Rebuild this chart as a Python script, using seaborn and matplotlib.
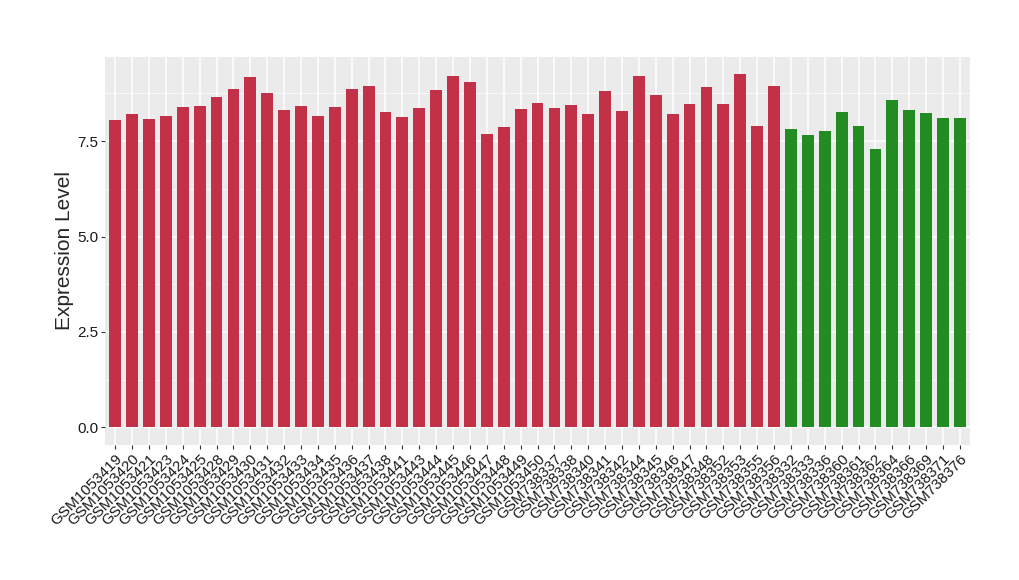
import numpy as np
import pandas as pd
import matplotlib
matplotlib.use("Agg")
import matplotlib.pyplot as plt
import seaborn as sns
from matplotlib.ticker import MultipleLocator

# sample ids, grouped by colour
red_samples = ["GSM1053419", "GSM1053420", "GSM1053421", "GSM1053423", "GSM1053424",
               "GSM1053425", "GSM1053428", "GSM1053429", "GSM1053430", "GSM1053431",
               "GSM1053432", "GSM1053433", "GSM1053434", "GSM1053435", "GSM1053436",
               "GSM1053437", "GSM1053438", "GSM1053441", "GSM1053443", "GSM1053444",
               "GSM1053445", "GSM1053446", "GSM1053447", "GSM1053448", "GSM1053449",
               "GSM1053450", "GSM738337", "GSM738338", "GSM738340", "GSM738341",
               "GSM738342", "GSM738344", "GSM738345", "GSM738346", "GSM738347",
               "GSM738348", "GSM738352", "GSM738353", "GSM738355", "GSM738356"]
green_samples = ["GSM738332", "GSM738333", "GSM738336", "GSM738360", "GSM738361",
                 "GSM738362", "GSM738364", "GSM738366", "GSM738369", "GSM738371",
                 "GSM738376"]

red_values = [8.05, 8.20, 8.07, 8.15, 8.39, 8.41, 8.67, 8.88, 9.17, 8.75,
              8.31, 8.41, 8.15, 8.39, 8.88, 8.94, 8.26, 8.13, 8.36, 8.83,
              9.20, 9.04, 7.68, 7.86, 8.34, 8.49, 8.36, 8.44, 8.20, 8.81,
              8.28, 9.22, 8.70, 8.20, 8.47, 8.91, 8.47, 9.25, 7.89, 8.94]
green_values = [7.81, 7.66, 7.76, 8.26, 7.89, 7.29, 8.57, 8.31, 8.23, 8.10, 8.10]

df = pd.DataFrame({
    "sample": red_samples + green_samples,
    "value": red_values + green_values,
    "group": ["a"] * len(red_samples) + ["b"] * len(green_samples),
})

sns.set_style("darkgrid", {"axes.facecolor": "#EBEBEB", "grid.color": "white"})
plt.rcParams["font.family"] = ["Liberation Sans", "DejaVu Sans"]

fig = plt.figure(figsize=(10.2, 5.8), dpi=100)
ax = fig.add_axes([0.103, 0.233, 0.848, 0.669])

sns.barplot(data=df, x="sample", y="value", hue="group",
            palette={"a": "#C23147", "b": "#228B22"}, dodge=False,
            width=0.7, legend=False, ax=ax, saturation=1, linewidth=0)

ax.set_xlim(-0.6, len(df) - 0.4)
ax.set_ylim(-0.46, 9.71)
ax.yaxis.set_minor_locator(MultipleLocator(1.25))
ax.set_yticks([0, 2.5, 5, 7.5])
ax.set_yticklabels(["0.0", "2.5", "5.0", "7.5"])
ax.grid(which="major", color="white", linewidth=1.1)
ax.grid(which="minor", axis="y", color="white", linewidth=0.5)
ax.set_axisbelow(True)
for s in ax.spines.values():
    s.set_visible(False)

ax.tick_params(axis="both", which="major", length=3, color="#333333",
               labelsize=11, labelcolor="#1a1a1a", pad=2, bottom=True, left=True)
ax.tick_params(axis="y", which="minor", length=0)
plt.setp(ax.get_xticklabels(), rotation=45, ha="right", rotation_mode="anchor")

ax.set_xlabel("")
ax.set_ylabel("Expression Level", fontsize=15, labelpad=2)

fig.savefig("out.png", dpi=100)
